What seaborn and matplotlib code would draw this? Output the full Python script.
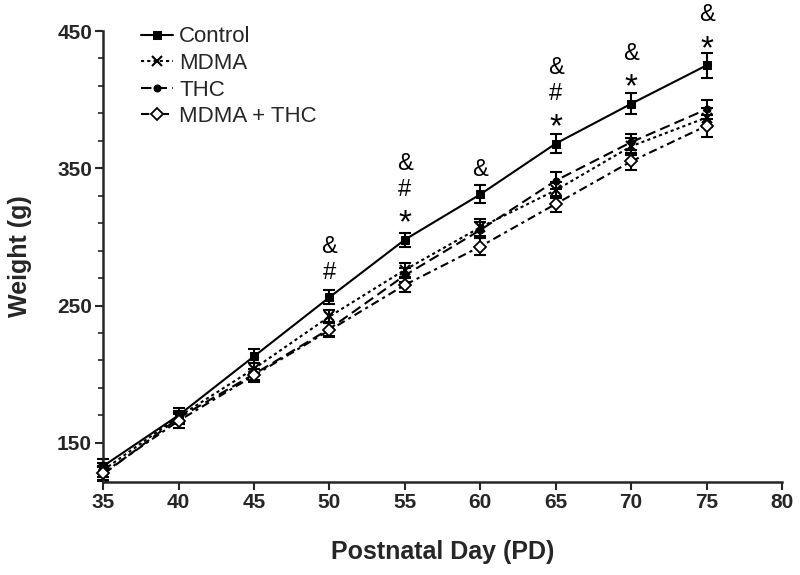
import numpy as np
import pandas as pd
import matplotlib
matplotlib.use("Agg")
import matplotlib.pyplot as plt
import seaborn as sns
from matplotlib.ticker import FixedLocator

# ---- data ----
pd_days = [35, 40, 45, 50, 55, 60, 65, 70, 75]
groups = ["Control", "MDMA", "THC", "MDMA + THC"]
control = [133, 170, 213, 256, 298, 331, 368, 397, 425]
mdma = [130, 169, 204, 242, 276, 307, 334, 366, 387]
thc = [127, 168, 200, 233, 272, 305, 341, 369, 393]
combo = [128, 166, 199, 232, 265, 293, 324, 355, 381]
control_sem = [5, 5, 5, 5, 5, 6.5, 7, 7.5, 9]
mdma_sem = [5, 4, 4, 5, 5, 6, 6, 6, 7]
thc_sem = [5, 4, 4, 5, 5, 6, 6, 6, 7]
combo_sem = [5, 5, 5, 5, 5, 6, 6, 6, 8]
annot_x = [50, 55, 60, 65, 70, 75]
annot_labels = [["#", "&"], ["*", "#", "&"], ["&"], ["*", "#", "&"], ["*", "&"], ["*", "&"]]
x_ticks = [35, 40, 45, 50, 55, 60, 65, 70, 75, 80]
y_ticks = [150, 250, 350, 450]

means = [control, mdma, thc, combo]
sems = [control_sem, mdma_sem, thc_sem, combo_sem]

rows = []
for g, m, s in zip(groups, means, sems):
    for d, v, e in zip(pd_days, m, s):
        rows.append({"PD": d, "Weight": v, "SEM": e, "Group": g})
df = pd.DataFrame(rows)

sns.set_style("ticks")
plt.rcParams["font.family"] = ["Liberation Sans", "DejaVu Sans"]

fig = plt.figure(figsize=(8, 5.75), dpi=100)
ax = fig.add_axes([0.129, 0.162, 0.8485, 0.784])

styles = {
    "Control": dict(marker="s", linestyle="-", markersize=6, markerfacecolor="black"),
    "MDMA": dict(marker="x", linestyle=(0, (1.5, 1.5)), markersize=7, markeredgewidth=1.5),
    "THC": dict(marker="o", linestyle=(0, (5, 2.5)), markersize=5, markerfacecolor="black"),
    "MDMA + THC": dict(marker="D", linestyle=(0, (4, 2, 1.5, 2)), markersize=6,
                        markerfacecolor="white", markeredgewidth=1.3),
}

for g in groups:
    sub = df[df["Group"] == g]
    ax.errorbar(sub["PD"], sub["Weight"], yerr=sub["SEM"], fmt="none", ecolor="black",
                elinewidth=1.5, capsize=4, capthick=1.5, clip_on=False, zorder=2)
    sns.lineplot(data=sub, x="PD", y="Weight", ax=ax, color="black", linewidth=1.5,
                 label=g, errorbar=None, clip_on=False, zorder=3,
                 markeredgecolor="black", **styles[g])

# significance annotations
ctrl = dict(zip(pd_days, zip(control, control_sem)))
for xv, labs in zip(annot_x, annot_labels):
    yv = ctrl[xv][0]
    for i, lab in enumerate(labs):
        if lab == "*":
            ax.annotate(lab, xy=(xv, yv), xytext=(0, 16 * 0.72),
                        textcoords="offset points", ha="center", va="center",
                        fontsize=24, color="black", annotation_clip=False)
        else:
            ax.annotate(lab, xy=(xv, yv), xytext=(0, (24 + 26 * i) * 0.72),
                        textcoords="offset points", ha="center", va="center",
                        fontsize=17, color="black", annotation_clip=False)

ax.set_xlim(35, 80)
ax.set_ylim(121.5, 450)
ax.set_xticks(x_ticks)
ax.set_yticks(y_ticks)
ax.yaxis.set_minor_locator(FixedLocator(np.arange(130, 451, 20)))
ax.tick_params(axis="both", which="major", direction="out", length=6, width=1.5,
               labelsize=15, pad=2)
ax.tick_params(axis="y", which="minor", direction="out", length=3.5, width=1.2)
for lab in ax.get_xticklabels() + ax.get_yticklabels():
    lab.set_fontweight("bold")

for side in ["top", "right"]:
    ax.spines[side].set_visible(False)
for side in ["left", "bottom"]:
    ax.spines[side].set_linewidth(1.8)

ax.set_xlabel("Postnatal Day (PD)", fontsize=18, fontweight="bold", labelpad=20)
ax.set_ylabel("Weight (g)", fontsize=18, fontweight="bold", labelpad=18)

handles, labels = ax.get_legend_handles_labels()
ax.legend(handles, labels, loc="upper left", bbox_to_anchor=(0.043, 1.03), frameon=False,
          fontsize=16, handlelength=1.45, handletextpad=0.25, labelspacing=0.25,
          borderaxespad=0)

fig.savefig("out.png", dpi=100)
